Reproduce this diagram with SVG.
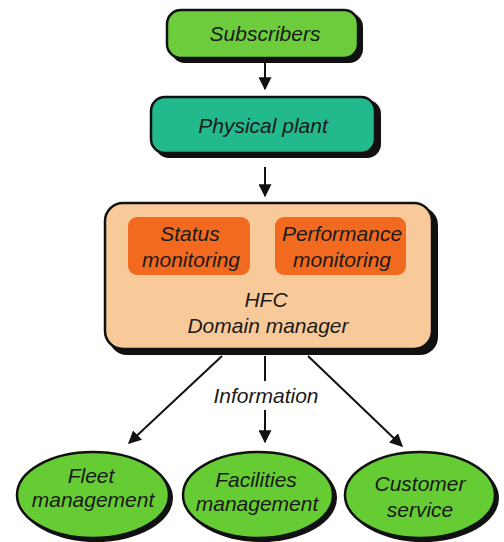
<svg xmlns="http://www.w3.org/2000/svg" width="504" height="542" viewBox="0 0 504 542">
<defs>
<style>
text{font-family:"Liberation Sans",Arial,sans-serif;font-style:italic;font-size:21px;fill:#1a1a1a;text-anchor:middle}
.box{stroke:#111;stroke-width:2.5}
.sh{fill:#111}
.con{stroke:#111;stroke-width:2;fill:none;marker-end:url(#ah)}
</style>
<marker id="ah" viewBox="0 0 10 10" refX="9" refY="5" markerWidth="6.5" markerHeight="6.5" orient="auto" markerUnits="strokeWidth">
<path d="M0,0 L10,5 L0,10 Z" fill="#111"/>
</marker>
</defs>
<rect width="504" height="542" fill="#fff"/>
<g id="subscribers">
<rect class="sh" x="171" y="13" width="192" height="50" rx="14"/>
<rect class="box" x="167" y="10" width="191" height="48" rx="14" fill="#6ccc3c"/>
<text x="265" y="41">Subscribers</text>
</g>
<g id="physical-plant">
<rect class="sh" x="155" y="100" width="226" height="58" rx="14"/>
<rect class="box" x="151" y="97" width="224" height="56" rx="14" fill="#22b98c"/>
<text x="263" y="133">Physical plant</text>
</g>
<g id="hfc">
<rect class="sh" x="109" y="207" width="329" height="148" rx="18"/>
<rect class="box" x="105" y="203" width="327" height="146" rx="18" fill="#f8ca99"/>
<text x="266" y="307">HFC</text>
<text x="268" y="333">Domain manager</text>
</g>
<g id="status">
<rect x="128" y="217" width="122" height="58" rx="9" fill="#f26a20"/>
<text x="190" y="241">Status</text>
<text x="191" y="267">monitoring</text>
</g>
<g id="performance">
<rect x="275" y="217" width="131" height="58" rx="9" fill="#f26a20"/>
<text x="342" y="241">Performance</text>
<text x="342" y="267">monitoring</text>
</g>
<g id="fleet">
<ellipse class="sh" cx="96" cy="498" rx="77" ry="44"/>
<ellipse class="box" cx="93" cy="495" rx="76" ry="43" fill="#66cc33"/>
<text x="91" y="483">Fleet</text>
<text x="93" y="507">management</text>
</g>
<g id="facilities">
<ellipse class="sh" cx="261" cy="498" rx="76" ry="44"/>
<ellipse class="box" cx="258" cy="495" rx="75" ry="43" fill="#66cc33"/>
<text x="256" y="487">Facilities</text>
<text x="257" y="511">management</text>
</g>
<g id="customer">
<ellipse class="sh" cx="423" cy="498" rx="76" ry="44"/>
<ellipse class="box" cx="420" cy="495" rx="75" ry="43" fill="#66cc33"/>
<text x="420" y="491">Customer</text>
<text x="420" y="517">service</text>
</g>
<g id="connectors">
<line class="con" x1="265" y1="63" x2="265" y2="89"/>
<line class="con" x1="265" y1="167" x2="265" y2="196"/>
<line class="con" x1="222" y1="356" x2="129" y2="443"/>
<line stroke="#111" stroke-width="2" x1="265" y1="356" x2="265" y2="381"/>
<line class="con" x1="265" y1="410" x2="265" y2="442"/>
<line class="con" x1="308" y1="356" x2="402" y2="446"/>
<text x="266" y="403">Information</text>
</g>
</svg>
